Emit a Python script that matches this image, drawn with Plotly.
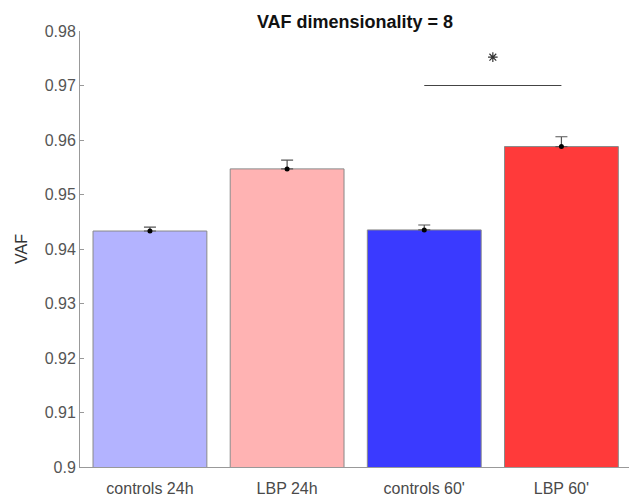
import plotly.graph_objects as go

categories = ["controls 24h", "LBP 24h", "controls 60'", "LBP 60'"]
positions = [1, 2, 3, 4]
values = [0.9433, 0.9547, 0.9435, 0.9588]
errors = [0.0007, 0.0016, 0.0009, 0.0018]
colors = ["#b3b3ff", "#ffb3b3", "#3a3aff", "#ff3a3a"]
y_ticks = [0.9, 0.91, 0.92, 0.93, 0.94, 0.95, 0.96, 0.97, 0.98]
y_tick_labels = ["0.9", "0.91", "0.92", "0.93", "0.94", "0.95", "0.96", "0.97", "0.98"]
sig_pair = [3, 4]
sig_level = 0.97
star_level = 0.9752

fig = go.Figure()
fig.add_trace(go.Bar(
    x=positions, y=values, width=0.83,
    marker=dict(color=colors, line=dict(color="#8a8a8a", width=1)),
    error_y=dict(type="data", symmetric=False, array=errors, arrayminus=[0]*len(errors),
                 color="#555555", thickness=1.2, width=6),
    showlegend=False,
))
fig.add_trace(go.Scatter(
    x=positions, y=values, mode="markers",
    marker=dict(color="black", size=5), showlegend=False,
))
fig.add_trace(go.Scatter(
    x=sig_pair, y=[sig_level, sig_level], mode="lines",
    line=dict(color="#444444", width=1), showlegend=False,
))
fig.add_trace(go.Scatter(
    x=[sum(sig_pair)/2], y=[star_level], mode="markers",
    marker=dict(symbol="asterisk-open", size=8, color="#333333",
                line=dict(color="#333333", width=1.2)),
    showlegend=False,
))

fig.update_layout(
    width=637, height=503,
    margin=dict(l=70, r=15, t=23, b=44),
    paper_bgcolor="white", plot_bgcolor="white",
    font=dict(family="Liberation Sans, Arial", size=16, color="#444444"),
    title=dict(text="<b>VAF dimensionality = 8</b>", x=0.5, xref="paper", xanchor="center",
               y=0.985, yanchor="top", font=dict(size=18, color="#111111")),
    xaxis=dict(range=[0.49, 4.5], tickvals=positions, ticktext=categories,
               showline=True, linecolor="#999999", linewidth=1, ticks="",
               ticklabelstandoff=7,
               showgrid=False, zeroline=False, tickfont=dict(size=16, color="#4a4a4a")),
    yaxis=dict(range=[0.9, 0.98], tickvals=y_ticks, ticktext=y_tick_labels,
               showline=True, linecolor="#999999", linewidth=1, ticks="inside",
               ticklen=4, tickcolor="#999999", showgrid=False, zeroline=False,
               title=dict(text="VAF", standoff=13, font=dict(size=16, color="#333333")),
               tickfont=dict(size=16, color="#555555")),
)
fig.write_html("out.html")
